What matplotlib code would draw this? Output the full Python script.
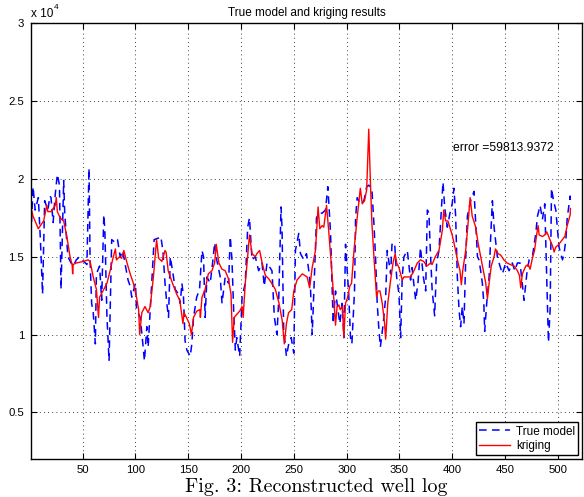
import matplotlib
matplotlib.use("Agg")
import matplotlib.pyplot as plt
from matplotlib.ticker import FuncFormatter, MultipleLocator

# ---- data ----
true_x = [1, 3, 5, 8, 10, 12, 14, 17, 19, 20, 22, 24, 26, 28, 29.5, 32, 33, 36, 39, 41, 44, 47, 51,
          54, 56, 57, 58.5, 60, 62, 63, 66, 68, 70, 71, 73, 75, 77.5, 81, 83, 85.5, 88, 90, 93, 95,
          96.5, 100, 101, 104.5, 107, 108.5, 110.8, 112, 114.5, 117.7, 121.8, 124, 126, 128, 129.7,
          131.3, 133, 136, 137.6, 140.8, 142.4, 144, 145.5, 147, 148.7, 151.9, 153.4, 155, 158,
          160.7, 163, 164.5, 166, 167.7, 170.8, 173.4, 175, 177, 180.3, 182, 185, 188.2, 189.8,
          191.4, 193, 194.6, 196, 198.7, 201, 204, 206.3, 208, 210.4, 213.5, 216.7, 219.9, 222,
          224.6, 229.3, 231.6, 234, 235.7, 237.9, 238.8, 240.4, 243, 245.2, 247.5, 250, 251.5,
          254.7, 256.3, 259.5, 262, 264.2, 265.8, 267.4, 269, 271.5, 273.7, 276.8, 280, 282.2,
          283.2, 284.8, 287.3, 289.5, 291, 293.6, 295.8, 297.4, 299, 300.6, 302, 303.7, 305,
          307.5, 308.5, 310, 313, 316.4, 319, 321, 324, 325.9, 327.4, 329, 330.6, 332, 334.7,
          337, 338.5, 341.7, 343, 345.5, 347.4, 349.6, 351.2, 352.7, 354.3, 357.5, 360.6, 362,
          365.4, 367.6, 370, 372.7, 374.9, 376.5, 378, 379, 381, 383.4, 385.3, 387.5, 389.7,
          391.3, 392.9, 395.4, 397.9, 400, 401.7, 403.3, 404.9, 406.5, 408, 409.6, 411.2, 412.8,
          414.4, 417.5, 420.7, 422.3, 424, 425.4, 427, 428.6, 430, 430.8, 432.7, 435, 436.5,
          438.1, 439.7, 442.8, 444.4, 447.6, 450.7, 453.9, 457, 459.3, 461.8, 464.3, 468.1,
          470.7, 472.9, 476, 479.2, 480.8, 483.3, 485.5, 487.7, 489.6, 491.2, 492.8, 494.1,
          496, 498.2, 499.8, 501.3, 504.5, 506, 507.7, 509, 511.8, 512]
true_y = [1.64, 1.95, 1.80, 1.88, 1.60, 1.26, 1.86, 1.80, 1.89, 1.88, 1.72, 1.90, 2.03, 1.96, 1.29,
          1.99, 1.78, 1.50, 1.46, 1.44, 1.48, 1.50, 1.47, 1.45, 2.07, 1.48, 1.20, 1.14, 0.94, 1.39,
          1.44, 1.22, 1.77, 1.67, 1.11, 0.83, 1.61, 1.59, 1.61, 1.50, 1.54, 1.46, 1.35, 1.31, 1.24,
          1.33, 1.16, 1.11, 0.94, 0.83, 1.05, 0.92, 1.22, 1.61, 1.62, 1.63, 1.54, 1.33, 1.20, 1.11,
          1.50, 1.37, 1.29, 1.26, 1.20, 1.33, 1.24, 0.96, 0.90, 0.86, 0.94, 1.11, 1.24, 1.29, 1.54,
          1.50, 1.11, 1.37, 1.33, 1.48, 1.59, 1.48, 1.37, 1.20, 1.37, 1.33, 1.63, 1.48, 1.16, 0.90,
          0.98, 0.86, 1.24, 1.33, 1.69, 1.75, 1.48, 1.50, 1.41, 1.46, 1.31, 1.46, 1.41, 1.11, 1.00,
          1.22, 1.82, 1.69, 1.03, 0.86, 0.94, 0.98, 0.88, 1.54, 1.65, 1.52, 1.48, 1.52, 1.41, 1.30,
          1.00, 1.28, 1.75, 1.78, 1.78, 1.80, 1.95, 1.84, 1.65, 1.07, 1.28, 1.20, 1.07, 1.20, 0.98,
          1.58, 1.41, 1.26, 0.98, 0.94, 1.28, 1.75, 1.88, 1.84, 1.86, 1.95, 1.96, 1.93, 1.71, 1.50,
          1.20, 1.03, 0.92, 1.07, 1.24, 1.54, 1.39, 1.58, 1.59, 1.37, 1.26, 0.98, 1.37, 1.50, 1.54,
          1.35, 1.43, 1.22, 1.33, 1.56, 1.37, 1.28, 1.80, 1.78, 1.59, 1.29, 1.12, 1.46, 1.54, 1.80,
          1.98, 1.82, 1.69, 1.78, 1.84, 1.94, 1.76, 1.37, 1.16, 1.05, 1.18, 1.07, 1.48, 1.76, 1.86,
          1.92, 1.71, 1.50, 1.48, 1.41, 1.33, 1.20, 1.02, 1.20, 1.37, 1.63, 1.86, 1.69, 1.50, 1.46,
          1.39, 1.46, 1.41, 1.46, 1.41, 1.46, 1.46, 1.22, 1.39, 1.48, 1.50, 1.65, 1.76, 1.83, 1.74,
          1.84, 1.35, 0.95, 1.16, 1.94, 1.86, 1.80, 1.67, 1.56, 1.48, 1.52, 1.61, 1.75, 1.89, 1.84]

krig_x = [1, 3, 8, 13, 16, 17, 20, 24, 25, 26, 28, 30, 32, 35, 38, 40, 40.5, 41, 44, 51, 55, 57, 60,
          63, 65, 66, 70, 73, 76, 79, 81, 82, 85, 87, 89, 92, 95, 98, 101, 103, 104, 106, 109,
          112, 114, 117, 120, 122, 125, 128, 129, 131, 134.5, 139, 142, 145, 146, 149, 151, 153,
          155, 158, 161, 161.5, 163, 166, 169, 172.4, 175, 176.5, 179, 182, 185, 188, 190.5, 191,
          192, 193.6, 196, 198.7, 201, 202, 204, 206, 208, 210.4, 213.5, 215, 217.6, 220, 223,
          226, 229, 232.5, 236, 239, 241, 243, 245, 248, 250, 253, 258, 262.6, 265, 267.4, 270.5,
          273, 274.6, 276.8, 278.4, 281, 283, 285.4, 288, 289.5, 291, 292.7, 294, 296, 297.4,
          299, 301, 303, 304.7, 307, 310, 313, 314.8, 317, 319, 321, 322.7, 324, 325.9, 328.4,
          329.7, 331.6, 333.8, 336, 337, 339, 341.7, 344, 346, 347.4, 349.6, 352.7, 354.3, 357.5,
          360.6, 363.8, 367, 370, 373, 376, 379.6, 381, 384, 387.5, 390.7, 392, 393.8, 396,
          398.6, 400, 401.7, 405, 407.4, 408.7, 410, 412.8, 415, 417, 419, 422.3, 424.5, 427,
          429.6, 431.8, 433.4, 435, 437, 439.7, 441, 443.5, 446, 449, 452, 455, 458.7, 461.8,
          463.7, 465, 466.5, 469.7, 472, 473.8, 476, 478, 480, 481.4, 482.4, 485.5, 487.7,
          489.6, 492, 495, 496.6, 498, 501, 504.5, 506.7, 509, 511.8, 512]
krig_y = [1.82, 1.76, 1.68, 1.73, 1.83, 1.79, 1.79, 1.83, 1.88, 1.79, 1.76, 1.74, 1.73, 1.63, 1.50,
          1.45, 1.39, 1.45, 1.46, 1.47, 1.48, 1.47, 1.37, 1.29, 1.11, 1.24, 1.29, 1.33, 1.41, 1.50,
          1.55, 1.48, 1.50, 1.49, 1.54, 1.46, 1.39, 1.33, 1.24, 1.16, 1.00, 1.14, 1.18, 1.14, 1.18,
          1.37, 1.61, 1.49, 1.47, 1.54, 1.53, 1.41, 1.34, 1.26, 1.22, 1.07, 1.14, 1.10, 1.07, 1.00,
          1.11, 1.15, 1.16, 1.11, 1.24, 1.29, 1.39, 1.41, 1.46, 1.58, 1.46, 1.42, 1.41, 1.36, 1.26,
          1.16, 0.95, 1.11, 1.13, 1.15, 1.18, 1.11, 1.33, 1.48, 1.64, 1.52, 1.50, 1.52, 1.54, 1.46,
          1.38, 1.36, 1.33, 1.29, 1.20, 1.09, 0.94, 1.07, 1.14, 1.16, 1.28, 1.35, 1.39, 1.37, 1.30,
          1.43, 1.54, 1.82, 1.68, 1.70, 1.69, 1.83, 1.67, 1.46, 1.22, 1.06, 1.18, 1.19, 1.16, 1.18,
          0.98, 1.20, 1.24, 1.31, 1.33, 1.54, 1.75, 1.94, 1.84, 1.86, 1.93, 2.32, 1.95, 1.71, 1.50,
          1.24, 1.28, 1.28, 1.20, 1.07, 0.97, 1.20, 1.35, 1.46, 1.52, 1.46, 1.43, 1.35, 1.37, 1.37,
          1.37, 1.41, 1.46, 1.48, 1.47, 1.44, 1.46, 1.45, 1.50, 1.54, 1.67, 1.80, 1.73, 1.73, 1.67,
          1.64, 1.59, 1.48, 1.41, 1.32, 1.41, 1.54, 1.71, 1.88, 1.76, 1.69, 1.59, 1.50, 1.41, 1.33,
          1.23, 1.33, 1.44, 1.50, 1.55, 1.52, 1.51, 1.48, 1.46, 1.45, 1.44, 1.41, 1.38, 1.30, 1.39,
          1.44, 1.45, 1.42, 1.49, 1.54, 1.64, 1.70, 1.64, 1.63, 1.64, 1.66, 1.62, 1.57, 1.53, 1.56,
          1.58, 1.61, 1.63, 1.70, 1.77, 1.81]

scale = 1e4
true_vals = [v * scale for v in true_y]
krig_vals = [v * scale for v in krig_y]

title = "True model and kriging results"
error_label = "error =59813.9372"
caption = "Fig. 3: Reconstructed well log"

plt.rcParams['font.family'] = ['Liberation Sans', 'DejaVu Sans']

fig = plt.figure(figsize=(5.84, 4.97), dpi=100)
ax = fig.add_axes([0.053, 0.0765, 0.9436, 0.8765])

ax.plot(true_x, true_vals, color=(0, 0, 1), lw=1.1, ls=(0, (5, 3.5)), label="True model")
ax.plot(krig_x, krig_vals, color=(1, 0, 0), lw=1.0, label="kriging")

ax.set_xlim(1, 523)
ax.set_ylim(2000, 30000)
ax.yaxis.set_major_locator(MultipleLocator(5000))
ax.yaxis.set_major_formatter(FuncFormatter(lambda v, p: "%g" % (v / scale)))
ax.set_xticks(range(50, 501, 50))

ax.grid(True, color='black', ls=(0, (1, 4)), lw=0.6)
ax.tick_params(direction='in', top=True, right=True, length=4, width=0.8,
               labelsize=8.2)
ax.tick_params(axis='x', pad=4.5)
ax.tick_params(axis='y', pad=5)
for s in ax.spines.values():
    s.set_linewidth(1.0)

ax.set_title(title, fontsize=8.5, pad=5)
fig.text(0.053, 0.965, "x 10", fontsize=8.5, ha='left', va='baseline')
fig.text(0.092, 0.982, "4", fontsize=6, ha='left', va='baseline')

ax.text(401, 22000, error_label, fontsize=8.7, ha='left', va='center')

leg = ax.legend(loc='lower right', fontsize=8.5, frameon=True, fancybox=False,
                edgecolor='black', framealpha=1, handlelength=2.6, borderpad=0.3,
                labelspacing=0.2, handletextpad=0.5, borderaxespad=0.3)
leg.get_frame().set_linewidth(1.0)

fig.text(0.542, 0.01, caption, fontsize=14.5, family='cmr10', ha='center', va='baseline')

fig.savefig("out.png", dpi=100)
